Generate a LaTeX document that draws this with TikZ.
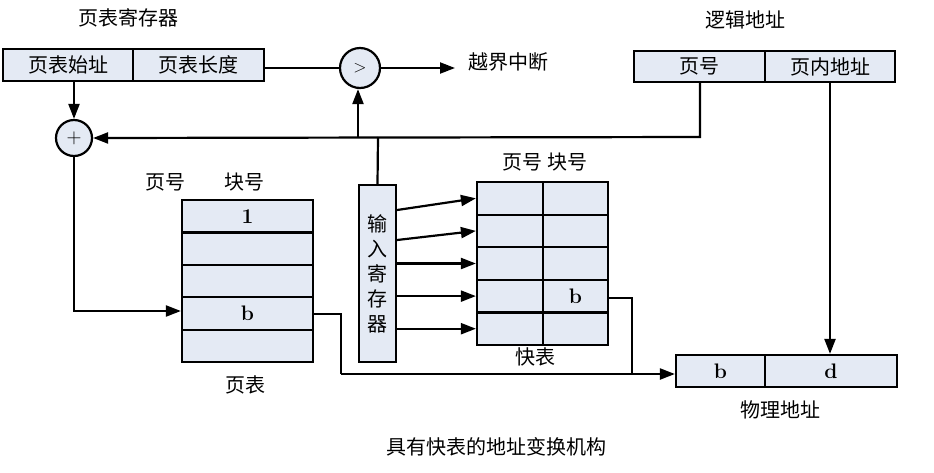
\documentclass[tikz,border=0pt]{standalone}
\usepackage{fontspec}
\newfontfamily\cjk{Noto Sans CJK SC}
\usetikzlibrary{arrows.meta}
\definecolor{boxfill}{HTML}{E4EAF4}
\begin{document}
\begin{tikzpicture}[x=1pt,y=-1pt,
  box/.style={draw,line width=2.2pt,fill=boxfill},
  arr/.style={line width=2.2pt,-{Triangle[length=15pt,width=11pt]}},
  ln/.style={line width=2.2pt},
  lab/.style={font=\cjk\fontsize{20}{22}\selectfont},
  bl/.style={font=\bfseries\fontsize{21}{23}\selectfont}]
\useasboundingbox (0,0) rectangle (934,472);
% page table register
\node[box,minimum width=130pt,minimum height=32pt,lab] (pa) at (68,65) {页表始址};
\node[box,minimum width=131pt,minimum height=32pt,lab] (pl) at (198.5,65) {页表长度};
\node[lab] (preg) at (128,18) {页表寄存器};
% compare
\node[circle,box,minimum size=40pt,inner sep=0pt] (cmp) at (360,68) {\fontsize{18}{20}\selectfont$>$};
\draw[ln] (pl.east |- cmp) -- (cmp.west);
\coordinate (oe) at (455,68);
\draw[arr] (cmp.east) -- (oe);
\node[lab,anchor=west] (oob) at (465,62) {越界中断};
% logical address
\node[box,minimum width=131pt,minimum height=31pt,lab] (lpn) at (699.5,66.5) {页号};
\node[box,minimum width=130pt,minimum height=31pt,lab] (lof) at (830,66.5) {页内地址};
\node[lab] (laddr) at (745,20) {逻辑地址};
% plus
\node[circle,box,minimum size=36pt,inner sep=0pt] (plus) at (74,138) {\fontsize{22}{24}\selectfont$+$};
\draw[arr] (pa.south -| plus) -- (plus.north);
\coordinate (c1) at (700,137);
\draw[arr] (lpn.south -| c1) -- (c1) -- (plus.east);
% input register
\node[box,minimum width=37pt,minimum height=177pt,inner sep=0pt,lab,align=center] (ir) at (377.5,273.5) {输\\[3pt]入\\[3pt]寄\\[3pt]存\\[3pt]器};
\coordinate (c2) at (378,137);
\draw[ln] (ir.north) -- (c2);
\coordinate (c3) at (358,137);
\draw[arr] (c3) -- (cmp.south -| c3);
% page table
\foreach \i/\t in {0/1,1/,2/,3/b,4/}{
  \node[box,minimum width=131pt,minimum height=32.4pt,bl] (pt\i) at (247.5,{216.2+32.4*\i}) {\t};}
\node[lab] (ptpn) at (165,182) {页号};
\node[lab] (ptbn) at (244,182) {块号};
\node[lab] (ptl) at (245,385) {页表};
\coordinate (c4) at (74,311);
\draw[arr] (plus.south) -- (c4) -- (pt3.west |- c4);
% fast table
\foreach \i in {0,...,4}{
  \node[box,minimum width=66pt,minimum height=32.6pt] (fa\i) at (510,{198.3+32.6*\i}) {};
  \node[box,minimum width=65pt,minimum height=32.6pt,bl] (fb\i) at (575.5,{198.3+32.6*\i}) {\ifnum\i=3 b\fi};}
\node[lab] (ftl) at (545,162) {页号 块号};
\node[lab] (ftn) at (535,357) {快表};
\draw[arr] (ir.east |- 0,210) -- (fa0.west);
\draw[arr] (ir.east |- 0,240) -- (fa1.west);
\foreach \i in {2,3,4}{\draw[arr] (ir.east |- fa\i.west) -- (fa\i.west);}
% physical address
\node[box,minimum width=89pt,minimum height=32pt,bl] (pb) at (720.5,371) {b};
\node[box,minimum width=132pt,minimum height=32pt,bl] (pd) at (831,371) {d};
\node[lab] (paddr) at (780,410) {物理地址};
\draw[arr] (lof.south) -- (pd.north -| lof.south);
\coordinate (c5) at (341,314);
\coordinate (c6) at (341,374);
\draw[ln] (pt3.east |- c5) -- (c5) -- (c6);
\draw[arr] (c6) -- (pb.west |- c6);
\coordinate (c7) at (632,298);
\coordinate (c8) at (632,374);
\draw[ln] (fb3.east |- c7) -- (c7) -- (c8);
% caption
\node[lab] (cap) at (496,447) {具有快表的地址变换机构};
\end{tikzpicture}
\end{document}
